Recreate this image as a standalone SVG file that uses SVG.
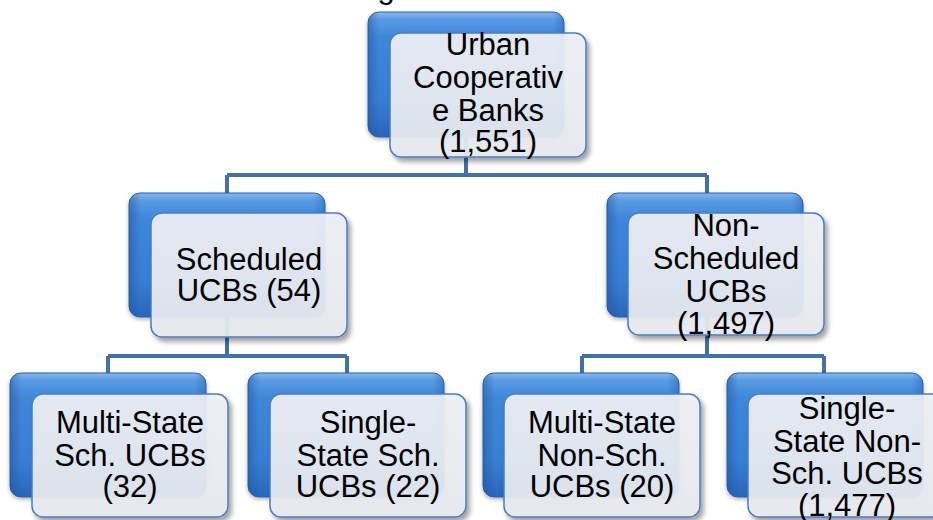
<svg xmlns="http://www.w3.org/2000/svg" width="933" height="520" viewBox="0 0 933 520">
<defs>
<linearGradient id="blueG" x1="0" y1="0" x2="0" y2="1">
<stop offset="0" stop-color="#86b9ef"/>
<stop offset="0.06" stop-color="#5a9be4"/>
<stop offset="0.2" stop-color="#3f87da"/>
<stop offset="0.7" stop-color="#387fd4"/>
<stop offset="1" stop-color="#2a66bb"/>
</linearGradient>
<linearGradient id="edgeG" x1="0" y1="0" x2="1" y2="0">
<stop offset="0" stop-color="#1f4f95" stop-opacity="0.45"/>
<stop offset="0.06" stop-color="#1f4f95" stop-opacity="0"/>
<stop offset="0.94" stop-color="#1f4f95" stop-opacity="0"/>
<stop offset="1" stop-color="#1f4f95" stop-opacity="0.35"/>
</linearGradient>
<linearGradient id="whiteG" x1="0" y1="0" x2="0" y2="1">
<stop offset="0" stop-color="#eff1f6"/>
<stop offset="1" stop-color="#e7eaf0"/>
</linearGradient>
<filter id="sh" x="-10%" y="-10%" width="125%" height="130%">
<feDropShadow dx="3" dy="4" stdDeviation="2.5" flood-color="#000" flood-opacity="0.4"/>
</filter>
<filter id="shb" x="-10%" y="-10%" width="125%" height="130%">
<feDropShadow dx="0" dy="2" stdDeviation="2" flood-color="#000" flood-opacity="0.3"/>
</filter>
</defs>
<style>
.back{fill:url(#blueG);stroke:#2c62ab;stroke-width:1;filter:url(#shb)}
.edge{fill:url(#edgeG);stroke:none}
.front{fill:url(#whiteG);fill-opacity:0.92;stroke:#4a7ec3;stroke-width:1.5;filter:url(#sh)}
.t{font-family:"Liberation Sans",Arial,sans-serif;font-size:31px;fill:#000;text-anchor:middle}
.c{fill:none;stroke:#4370a8;stroke-width:4}
</style>
<rect width="933" height="520" fill="#fff"/>
<text class="t" x="386" y="-2">g</text>
<g id="connectors">
<path class="c" d="M466 130 V175 M227 175 H707 M227 175 V200 M707 175 V200"/>
<path class="c" d="M227 310 V356 M108 356 H347 M108 356 V380 M347 356 V380"/>
<path class="c" d="M707 310 V356 M582 356 H824 M582 356 V380 M824 356 V380"/>
</g>
<g id="ucb">
<rect class="back" x="368" y="12" width="196" height="125" rx="11"/>
<rect class="edge" x="368" y="12" width="196" height="125" rx="11"/>
<rect class="front" x="390" y="33" width="196" height="124" rx="11"/>
<text class="t" x="488" y="55">Urban</text>
<text class="t" x="488" y="88">Cooperativ</text>
<text class="t" x="488" y="121">e Banks</text>
<text class="t" x="488" y="152">(1,551)</text>
</g>
<g id="scheduled">
<rect class="back" x="129" y="193" width="196" height="124" rx="11"/>
<rect class="edge" x="129" y="193" width="196" height="124" rx="11"/>
<rect class="front" x="151" y="213" width="196" height="124" rx="11"/>
<text class="t" x="249" y="270">Scheduled</text>
<text class="t" x="249" y="301">UCBs (54)</text>
</g>
<g id="nonscheduled">
<rect class="back" x="607" y="193" width="196" height="124" rx="11"/>
<rect class="edge" x="607" y="193" width="196" height="124" rx="11"/>
<rect class="front" x="628" y="213" width="196" height="122" rx="11"/>
<text class="t" x="726" y="236">Non-</text>
<text class="t" x="726" y="269">Scheduled</text>
<text class="t" x="726" y="302">UCBs</text>
<text class="t" x="726" y="334">(1,497)</text>
</g>
<g id="ms-sch">
<rect class="back" x="10" y="373" width="196" height="124" rx="11"/>
<rect class="edge" x="10" y="373" width="196" height="124" rx="11"/>
<rect class="front" x="32" y="394" width="196" height="123" rx="11"/>
<text class="t" x="130" y="433">Multi-State</text>
<text class="t" x="130" y="466">Sch. UCBs</text>
<text class="t" x="130" y="497">(32)</text>
</g>
<g id="ss-sch">
<rect class="back" x="248" y="373" width="196" height="124" rx="11"/>
<rect class="edge" x="248" y="373" width="196" height="124" rx="11"/>
<rect class="front" x="270" y="394" width="196" height="123" rx="11"/>
<text class="t" x="368" y="433">Single-</text>
<text class="t" x="368" y="466">State Sch.</text>
<text class="t" x="368" y="497">UCBs (22)</text>
</g>
<g id="ms-nonsch">
<rect class="back" x="483" y="373" width="196" height="124" rx="11"/>
<rect class="edge" x="483" y="373" width="196" height="124" rx="11"/>
<rect class="front" x="504" y="394" width="196" height="123" rx="11"/>
<text class="t" x="602" y="433">Multi-State</text>
<text class="t" x="602" y="466">Non-Sch.</text>
<text class="t" x="602" y="497">UCBs (20)</text>
</g>
<g id="ss-nonsch">
<rect class="back" x="727" y="373" width="196" height="124" rx="11"/>
<rect class="edge" x="727" y="373" width="196" height="124" rx="11"/>
<rect class="front" x="748" y="394" width="196" height="123" rx="11"/>
<text class="t" x="847" y="419">Single-</text>
<text class="t" x="847" y="452">State Non-</text>
<text class="t" x="847" y="484">Sch. UCBs</text>
<text class="t" x="847" y="516">(1,477)</text>
</g>
</svg>
